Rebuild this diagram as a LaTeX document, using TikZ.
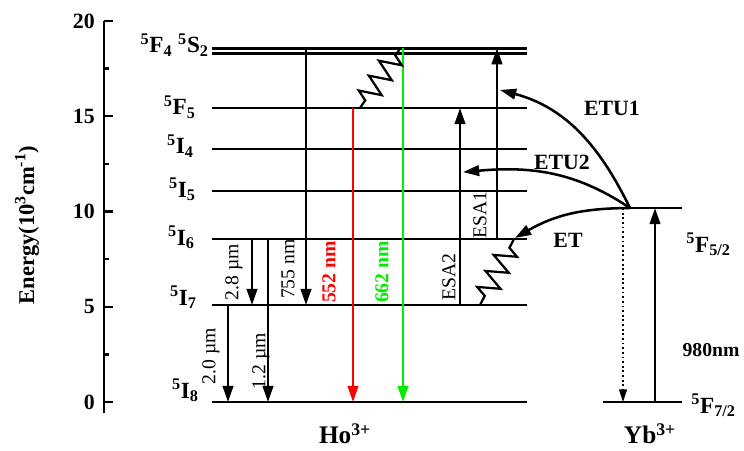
\documentclass[tikz,border=0pt]{standalone}
\usepackage{fontspec}
\setmainfont{Liberation Serif}
\usetikzlibrary{
    arrows.meta,
    decorations.pathmorphing
}
\definecolor{emred}{RGB}{255,0,0}
\definecolor{emgreen}{RGB}{0,235,0}

\begin{document}
\begin{tikzpicture}[x=0.025cm, y=0.47625cm, >={Triangle[length=11.5pt,width=7.5pt]},
    line width=1.8pt, line cap=butt]
  \useasboundingbox (0,-2.52) rectangle (744,21.10);

  \tikzset{
    level/.style={line width=2pt},
    trans/.style={->, line width=1.8pt},
    relax/.style={line width=1.6pt, decorate,
      decoration={zigzag, amplitude=0.27cm, segment length=0.45cm,
        pre length=0.25cm, post length=0.15cm}},
    lab/.style={anchor=base east, inner sep=0pt,
      font=\fontsize{16.5}{16}\selectfont\bfseries},
    tick/.style={anchor=east, inner sep=0pt,
      font=\fontsize{15.5}{15}\selectfont\bfseries},
    rlab/.style={rotate=90, inner sep=0pt,
      font=\fontsize{14}{14}\selectfont},
    blab/.style={inner sep=0pt, font=\fontsize{15.5}{15}\selectfont\bfseries}
  }

  % Energy axis
  \draw[line width=2pt] (104,-0.58) -- (104,20);
  \foreach \E in {0,5,10,15,20} {
    \draw (104,\E) -- ++(9,0);
    \node[tick] (t\E) at (96,\E) {\E};
  }
  \foreach \E in {2.5,7.5,12.5,17.5}
    \draw (104,\E) -- ++(5,0);
  \node[rotate=90, font=\fontsize{16}{16}\selectfont\bfseries] (ylab) at (27,9.29)
    {Energy(10\textsuperscript{3}cm\textsuperscript{-1})};

  % Ho levels
  \foreach \name/\E in {I8/0, I7/5.09, I6/8.56, I5/11.08, I4/13.28,
                        F5/15.43, S2/18.30, F4/18.57}
    \draw[level] (212,\E) coordinate (\name) -- (527,\E);

  \node[lab] (lI8) at (200,0.21)  {\textsuperscript{5}I\textsubscript{8}};
  \node[lab] (lI7) at (198,5.09)  {\textsuperscript{5}I\textsubscript{7}};
  \node[lab] (lI6) at (196,8.24)  {\textsuperscript{5}I\textsubscript{6}};
  \node[lab] (lI5) at (197,10.76) {\textsuperscript{5}I\textsubscript{5}};
  \node[lab] (lI4) at (195,13.02) {\textsuperscript{5}I\textsubscript{4}};
  \node[lab] (lF5) at (197,15.07) {\textsuperscript{5}F\textsubscript{5}};
  \node[lab] (lF4) at (210,18.32)
    {\textsuperscript{5}F\textsubscript{4} \textsuperscript{5}S\textsubscript{2}};

  % x positions of the transitions
  \coordinate (x20)   at (228,0);
  \coordinate (x28)   at (252,0);
  \coordinate (x12)   at (268,0);
  \coordinate (x755)  at (306,0);
  \coordinate (x552)  at (353,0);
  \coordinate (x662)  at (403,0);
  \coordinate (xesa2) at (460,0);
  \coordinate (xesa1) at (497,0);

  % emissions
  \draw[trans] (x755 |- F4) -- (x755 |- I7);
  \draw[trans] (x28 |- I6) -- (x28 |- I7);
  \draw[trans] (x12 |- I6) -- (x12 |- I8);
  \draw[trans] (x20 |- I7) -- (x20 |- I8);
  \draw[trans, emred] (x552 |- F5) -- (x552 |- I8);
  \draw[trans, emgreen] (x662 |- F4) -- (x662 |- I8);

  % excited state absorption
  \draw[trans] (xesa2 |- I7) -- (xesa2 |- F5);
  \draw[trans] (xesa1 |- I6) -- (xesa1 |- F4);

  % non-radiative relaxation
  \coordinate (z1a) at (401,18.62);
  \coordinate (z1b) at (360,15.43);
  \draw[relax] (z1a) -- (z1b);
  \coordinate (z2a) at (514,8.56);
  \coordinate (z2b) at (480,5.09);
  \draw[relax] (z2a) -- (z2b);

  \node[rlab] (n28)  at (234,6.82) {2.8 µm};
  \node[rlab] (n755) at (288,6.98) {755 nm};
  \node[rlab, font=\fontsize{14}{14}\selectfont\bfseries, text=emred] (n552) at (329,6.82) {552 nm};
  \node[rlab, font=\fontsize{14}{14}\selectfont\bfseries, text=emgreen] (n662) at (382,6.82) {662 nm};
  \node[rlab] (nesa2) at (449,6.56) {ESA2};
  \node[rlab] (n20)  at (211,2.41) {2.0 µm};
  \node[rlab] (n12)  at (261,2.15) {1.2 µm};
  \node[rlab] (nesa1) at (480,9.82) {ESA1};

  % Yb levels
  \draw[level] (625,10.18) coordinate (F52) -- (682,10.18);
  \draw[level] (603,0) coordinate (F72) -- (682,0);
  \coordinate (src)   at (630,10.18);
  \coordinate (xpump) at (655,0);
  \coordinate (xdec)  at (623,0);
  \draw[trans] (xpump |- F72) -- (xpump |- F52);
  \draw[->, line width=1.3pt, dotted, >={Triangle[length=9pt,width=5.5pt]}]
    (xdec |- F52) -- (xdec |- F72);

  % energy transfer
  \coordinate (etu1) at (500,16.38);
  \coordinate (etu2) at (463,12.07);
  \coordinate (et)   at (515,8.61);
  \draw[trans] (src) to[out=116, in=-15] (etu1);
  \draw[trans] (src) to[out=146, in=5] (etu2);
  \draw[trans] (src) to[out=180, in=30] (et);

  \node[blab] (nETU1) at (612,15.43) {ETU1};
  \node[blab] (nETU2) at (562,12.60) {ETU2};
  \node[blab] (nET)   at (568,8.50)  {ET};
  \node[blab, font=\fontsize{14}{14}\selectfont\bfseries] (n980) at (711,2.73) {980nm};
  \node[lab, anchor=base west] (lF52) at (685,7.87)
    {\textsuperscript{5}F\textsubscript{5/2}};
  \node[lab, anchor=base west] (lF72) at (690,-0.58)
    {\textsuperscript{5}F\textsubscript{7/2}};

  \node[lab, anchor=base, font=\fontsize{18}{18}\selectfont\bfseries] (ho) at (345,-2.2)
    {Ho\textsuperscript{3+}};
  \node[lab, anchor=base, font=\fontsize{18}{18}\selectfont\bfseries] (yb) at (650,-2.2)
    {Yb\textsuperscript{3+}};

\end{tikzpicture}
\end{document}
